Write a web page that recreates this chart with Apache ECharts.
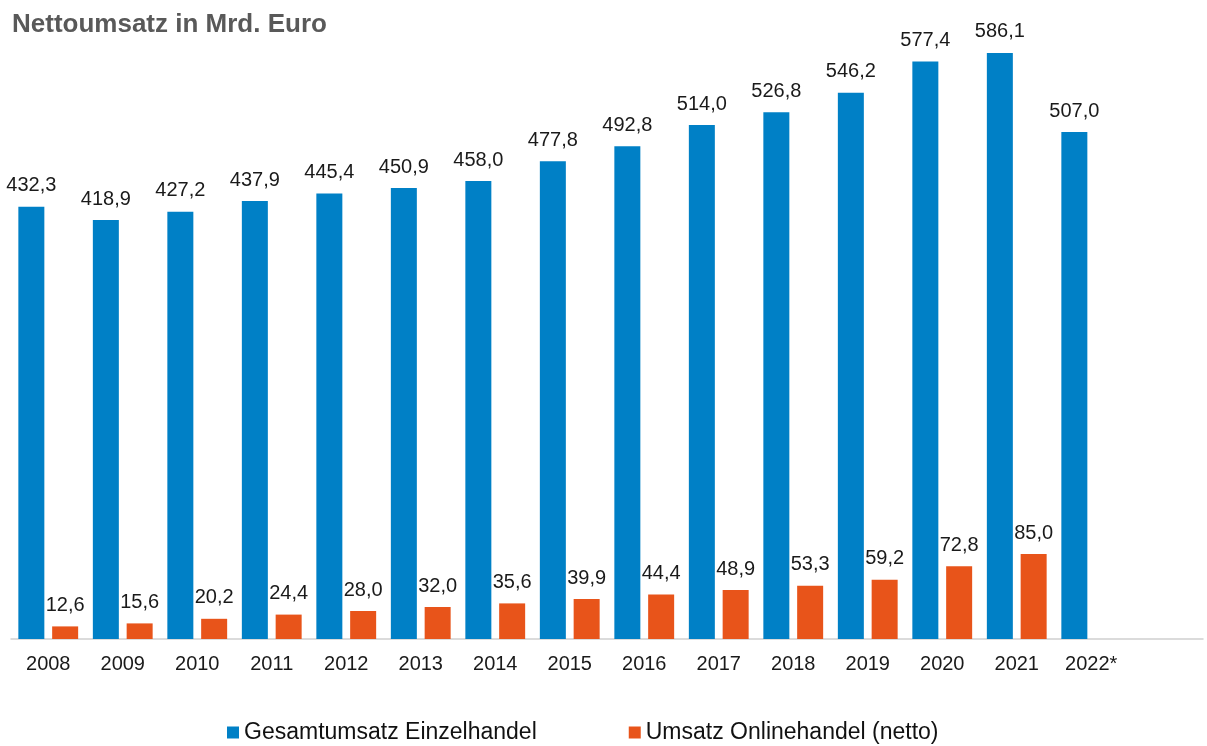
<!DOCTYPE html>
<html>
<head>
<meta charset="utf-8">
<script src="https://cdn.jsdelivr.net/npm/echarts@6/dist/echarts.min.js"></script>
<style>
html,body{margin:0;padding:0;background:#fff;}
#chart{width:1207px;height:746px;}
</style>
</head>
<body>
<div id="chart"></div>
<script>
const categories = ['2008','2009','2010','2011','2012','2013','2014','2015','2016','2017','2018','2019','2020','2021','2022*'];
const gesamtumsatz = [432.3,418.9,427.2,437.9,445.4,450.9,458.0,477.8,492.8,514.0,526.8,546.2,577.4,586.1,507.0];
const onlineUmsatz = [12.6,15.6,20.2,24.4,28.0,32.0,35.6,39.9,44.4,48.9,53.3,59.2,72.8,85.0,null];
const seriesNames = ['Gesamtumsatz Einzelhandel','Umsatz Onlinehandel (netto)'];
const titleText = 'Nettoumsatz in Mrd. Euro';

const fmt = p => (p.value == null ? '' : p.value.toFixed(1).replace('.', ','));
const font = 'Liberation Sans, Arial, sans-serif';

const chart = echarts.init(document.getElementById('chart'));
chart.setOption({
  animation: false,
  backgroundColor: '#ffffff',
  title: {
    text: titleText,
    left: 7, top: 7,
    textStyle: {fontFamily: font, fontSize: 26, fontWeight: 'bold', color: '#595959'}
  },
  legend: {
    left: 222, top: 716,
    itemWidth: 12, itemHeight: 12, itemGap: 92,
    icon: 'rect',
    textStyle: {fontFamily: font, fontSize: 23, color: '#111111', padding: [0,0,0,0]},
    data: seriesNames
  },
  grid: {left: 11, right: 4, top: 39, bottom: 107, containLabel: false},
  xAxis: {
    type: 'category',
    data: categories,
    max: categories.length,
    axisLine: {show: true, lineStyle: {color: '#d0d0d0', width: 1.5}},
    axisTick: {show: false},
    axisLabel: {fontFamily: font, fontSize: 20, color: '#1a1a1a', margin: 15, interval: 0}
  },
  yAxis: {
    type: 'value', min: 0, max: 600,
    show: false,
    splitLine: {show: false}
  },
  series: [
    {
      name: seriesNames[0], type: 'bar', data: gesamtumsatz,
      barWidth: 26, barGap: '30%',
      itemStyle: {color: '#0080C6'},
      label: {show: true, position: 'top', distance: 11, formatter: fmt,
        fontFamily: font, fontSize: 20, color: '#1a1a1a'}
    },
    {
      name: seriesNames[1], type: 'bar', data: onlineUmsatz,
      barWidth: 26,
      itemStyle: {color: '#E8541A'},
      label: {show: true, position: 'top', distance: 11, formatter: fmt,
        fontFamily: font, fontSize: 20, color: '#1a1a1a'}
    }
  ]
});
</script>
</body>
</html>
